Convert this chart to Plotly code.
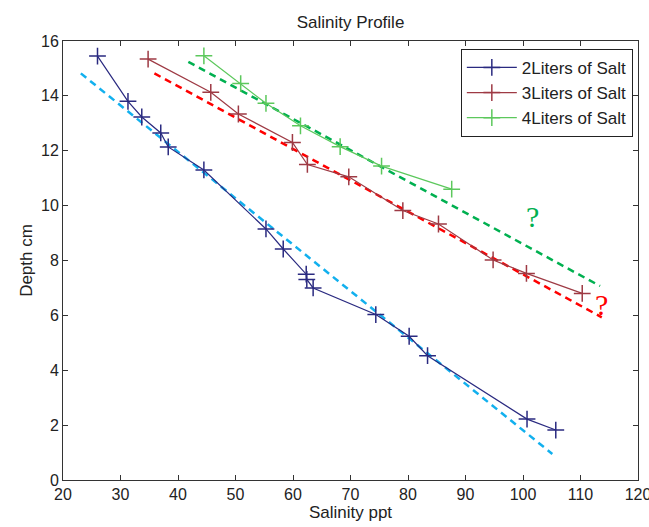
import plotly.graph_objects as go

# Salinity (ppt) vs depth (cm) for three salt amounts
salt2_sal = [26.0, 31.3, 33.7, 37.0, 38.3, 44.5, 55.3, 58.3, 62.3, 62.4, 63.5, 74.4, 80.2, 83.4, 100.7, 105.7]
salt2_dep = [15.45, 13.8, 13.23, 12.65, 12.14, 11.3, 9.15, 8.42, 7.5, 7.31, 7.0, 6.03, 5.24, 4.53, 2.22, 1.82]

salt3_sal = [34.8, 45.7, 50.5, 59.9, 62.5, 69.7, 79.1, 85.3, 94.8, 100.6, 110.3]
salt3_dep = [15.34, 14.13, 13.34, 12.3, 11.5, 11.05, 9.82, 9.33, 8.02, 7.53, 6.8]

salt4_sal = [44.5, 50.9, 55.3, 61.3, 68.2, 75.4, 87.6]
salt4_dep = [15.46, 14.45, 13.73, 12.91, 12.15, 11.44, 10.6]

# Hand-drawn trend lines (end points)
trend2_sal = [23.1, 105.1]
trend2_dep = [14.82, 0.95]
trend3_sal = [35.9, 113.7]
trend3_dep = [14.82, 5.93]
trend4_sal = [41.8, 113.4]
trend4_dep = [15.24, 7.07]

# Question-mark notes
note_sal = [101.7, 113.7]
note_dep = [9.6, 6.38]
note_txt = ["?", "?"]
note_col = ["#00B050", "#FF0000"]

x_ticks = list(range(20, 121, 10))
y_ticks = list(range(0, 17, 2))

SANS = "Liberation Sans, Arial, sans-serif"
TXT = "#222222"

fig = go.Figure()

dash = "7px,5px"
fig.add_trace(go.Scatter(x=trend2_sal, y=trend2_dep, mode="lines", showlegend=False,
                         line=dict(color="#12B0EE", width=2.5, dash=dash)))
fig.add_trace(go.Scatter(x=trend3_sal, y=trend3_dep, mode="lines", showlegend=False,
                         line=dict(color="#FF0000", width=2.5, dash=dash)))
fig.add_trace(go.Scatter(x=trend4_sal, y=trend4_dep, mode="lines", showlegend=False,
                         line=dict(color="#00B050", width=2.5, dash=dash)))

series = [
    ("2Liters of Salt", salt2_sal, salt2_dep, "#2A2A80"),
    ("3Liters of Salt", salt3_sal, salt3_dep, "#9E3A44"),
    ("4Liters of Salt", salt4_sal, salt4_dep, "#5CC85C"),
]
for name, xs, ys, col in series:
    fig.add_trace(go.Scatter(
        x=xs, y=ys, mode="lines+markers", name=name,
        line=dict(color=col, width=1.2),
        marker=dict(symbol="cross-thin", size=12, line=dict(color=col, width=1.5)),
    ))

for sx, sy, t, c in zip(note_sal, note_dep, note_txt, note_col):
    fig.add_annotation(x=sx, y=sy, text=t, showarrow=False,
                       font=dict(family="Liberation Serif, DejaVu Serif, serif", size=30, color=c))

axis_common = dict(
    showgrid=False, zeroline=False, showline=True, linecolor="#333333", linewidth=1,
    mirror="ticks", ticks="inside", ticklen=5, tickcolor="#333333",
    ticklabeloverflow="allow", automargin=False,
    tickfont=dict(family=SANS, size=16, color=TXT),
)

fig.update_layout(
    width=649, height=527,
    margin=dict(l=63, r=11, t=41, b=47),
    paper_bgcolor="white", plot_bgcolor="white",
    title=dict(text="Salinity Profile", x=0.5, xanchor="center", y=0.958, yanchor="middle",
               xref="paper", font=dict(family=SANS, size=17, color=TXT)),
    xaxis=dict(range=[20, 120], tickvals=x_ticks,
               title=dict(text="Salinity ppt", standoff=2,
                          font=dict(family=SANS, size=17, color=TXT)),
               **axis_common),
    yaxis=dict(range=[0, 16], tickvals=y_ticks,
               title=dict(text="Depth cm", standoff=4,
                          font=dict(family=SANS, size=17, color=TXT)),
               **axis_common),
    legend=dict(x=0.991, y=0.982, xanchor="right", yanchor="top",
                bgcolor="white", bordercolor="#222222", borderwidth=1,
                font=dict(family=SANS, size=17, color=TXT),
                itemwidth=50, tracegroupgap=0),
)

fig.write_html("out.html")
